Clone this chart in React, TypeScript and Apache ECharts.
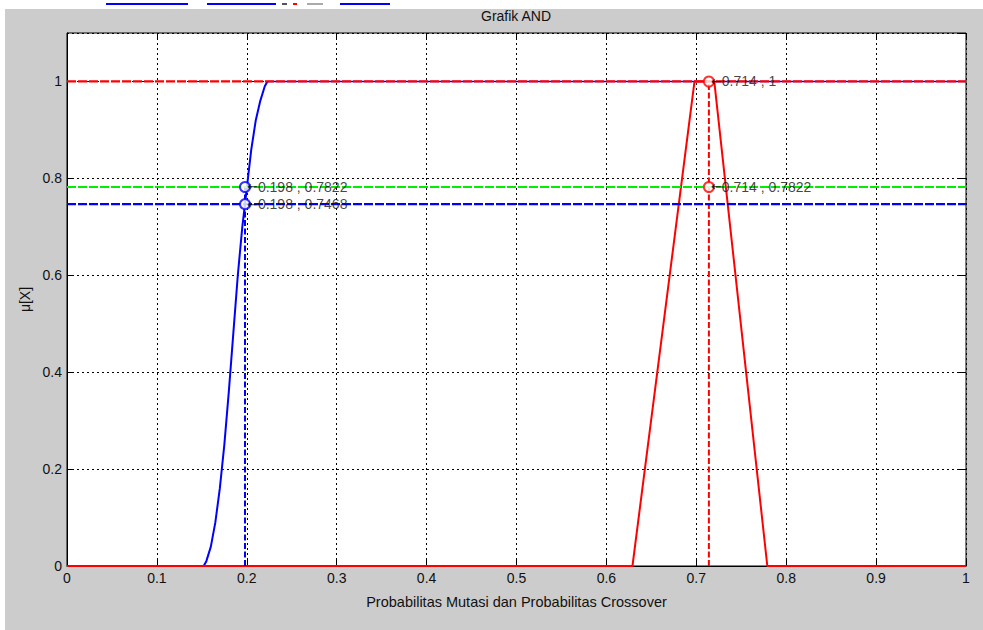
import React, { useEffect, useRef } from "react";
import * as echarts from "echarts";

// Blue S-shaped membership curve, rising part
const sCurveX = [0, 0.15, 0.152, 0.155, 0.16, 0.165, 0.17, 0.175, 0.18, 0.185, 0.19, 0.195, 0.198, 0.2, 0.205, 0.21, 0.215, 0.22, 0.223];
const sCurveY = [0, 0, 0, 0.01, 0.04, 0.09, 0.16, 0.25, 0.36, 0.48, 0.6, 0.7, 0.7468, 0.78, 0.86, 0.92, 0.96, 0.99, 1];
// Blue curve plateau
const plateauX = [0.223, 1];
const plateauY = [1, 1];

// Red trapezoid membership curve
const trapX = [0, 0.629, 0.698, 0.72, 0.779, 1];
const trapY = [0, 0, 1, 1, 0, 0];

// Horizontal reference levels (blue, green, red)
const levelY = [0.7468, 0.7822, 1];
// Vertical reference lines: x position and top value
const cutX = [0.198, 0.714];
const cutTop = [0.7822, 1];

// Annotated points
const pointX = [0.198, 0.198, 0.714, 0.714];
const pointY = [0.7822, 0.7468, 1, 0.7822];

// Tick values
const xTicks = [0, 0.1, 0.2, 0.3, 0.4, 0.5, 0.6, 0.7, 0.8, 0.9, 1];
const yTicks = [0, 0.2, 0.4, 0.6, 0.8, 1];

const titleText = "Grafik AND";
const xName = "Probabilitas Mutasi dan Probabilitas Crossover";
const yName = "\u03bc[X]";

const FONT = "'Liberation Sans', Arial, sans-serif";
const levelColors = ["#0000ff", "#00ee00", "#ff0000"];
const cutColors = ["#0000ff", "#ff0000"];
const pointColors = ["#0000ff", "#0000ff", "#ff0000", "#ff0000"];

export default function App() {
  const ref = useRef<HTMLDivElement>(null);
  useEffect(() => {
    if (!ref.current) return;
    const chart = echarts.init(ref.current, null, { renderer: "svg" });
    const series: any[] = [];
    const base = { type: "line", showSymbol: false, emphasis: { disabled: true }, silent: true };
    series.push({
      ...base,
      data: sCurveX.map((x, i) => [x, sCurveY[i]]),
      lineStyle: { color: "#0000ff", width: 2 },
      z: 1,
    });
    series.push({
      ...base,
      data: plateauX.map((x, i) => [x, plateauY[i]]),
      lineStyle: { color: "#0000ff", width: 1.6 },
      z: 1,
    });
    series.push({
      ...base,
      data: trapX.map((x, i) => [x, trapY[i]]),
      lineStyle: { color: "#ff0000", width: 2 },
      z: 3,
    });
    cutX.forEach((x, i) => {
      series.push({
        ...base,
        data: [[x, 0], [x, cutTop[i]]],
        lineStyle: { color: cutColors[i], width: 2, type: [6, 2.5] },
        z: 4,
      });
    });
    levelY.forEach((y, i) => {
      series.push({
        ...base,
        data: [[0, y], [1, y]],
        lineStyle: { color: levelColors[i], width: 2.2, type: [9, 2] },
        z: 10 + i * 5,
      });
    });
    pointX.forEach((x, i) => {
      series.push({
        type: "scatter",
        data: [[x, pointY[i]]],
        symbol: "emptyCircle",
        symbolSize: 10,
        itemStyle: { color: pointColors[i], borderColor: pointColors[i], borderWidth: 2 },
        emphasis: { disabled: true },
        silent: true,
        z: 30,
        label: {
          show: true,
          position: "right",
          distance: -4,
          textBorderWidth: 0,
          formatter: () => `{a|\u2190}{t|${x} , ${pointY[i]}}`,
          rich: {
            a: { fontFamily: "'DejaVu Sans'", fontSize: 13, color: "#000", textBorderWidth: 0 },
            t: { fontFamily: FONT, fontSize: 14, color: "#111", textBorderWidth: 0 },
          },
        },
      });
    });

    const option: any = {
      animation: false,
      backgroundColor: "#cccccc",
      grid: {
        left: 67,
        top: 33,
        right: 17,
        bottom: 64,
        show: true,
        backgroundColor: "#ffffff",
        borderColor: "#000",
        borderWidth: 1,
      },
      xAxis: [
        {
          type: "value",
          min: xTicks[0],
          max: xTicks[xTicks.length - 1],
          interval: 0.1,
          name: xName,
          nameLocation: "middle",
          nameGap: 28,
          nameTextStyle: { fontFamily: FONT, fontSize: 14.5, color: "#111" },
          axisLine: { onZero: false, lineStyle: { color: "#000" } },
          axisTick: { inside: true, length: 7, lineStyle: { color: "#000" } },
          axisLabel: {
            fontFamily: FONT,
            fontSize: 14,
            color: "#111",
            margin: 5,
            formatter: (v: number) => String(Math.round(v * 10) / 10),
          },
          splitLine: { show: true, lineStyle: { color: "#000", type: [2, 3], width: 1 } },
        },
        {
          type: "value",
          position: "top",
          min: 0,
          max: 1,
          interval: 0.1,
          axisLine: { show: false, onZero: false },
          axisTick: { inside: true, length: 7, lineStyle: { color: "#000" } },
          axisLabel: { show: false },
          splitLine: { show: false },
        },
      ],
      yAxis: [
        {
          type: "value",
          min: yTicks[0],
          max: 1.1,
          interval: 0.2,
          name: yName,
          nameLocation: "middle",
          nameGap: 30,
          nameTextStyle: { fontFamily: FONT, fontSize: 14, color: "#111" },
          axisLine: { show: true, onZero: false, lineStyle: { color: "#000" } },
          axisTick: { inside: true, length: 7, lineStyle: { color: "#000" } },
          axisLabel: {
            fontFamily: FONT,
            fontSize: 14,
            color: "#111",
            margin: 5,
            showMaxLabel: false,
            formatter: (v: number) => (v > 1.05 ? "" : String(Math.round(v * 10) / 10)),
          },
          splitLine: { show: true, lineStyle: { color: "#000", type: [2, 3], width: 1 } },
        },
        {
          type: "value",
          position: "right",
          min: 0,
          max: 1.1,
          interval: 0.2,
          axisLine: { show: false, onZero: false },
          axisTick: { inside: true, length: 7, lineStyle: { color: "#000" } },
          axisLabel: { show: false },
          splitLine: { show: false },
        },
      ],
      series,
      graphic: [
        { type: "rect", shape: { x: 0, y: 0, width: 983, height: 9 }, style: { fill: "#fff" }, silent: true },
        { type: "rect", shape: { x: 0, y: 0, width: 5, height: 630 }, style: { fill: "#fff" }, silent: true },
        { type: "line", shape: { x1: 106, y1: 4, x2: 188, y2: 4 }, style: { stroke: "#0000ff", lineWidth: 2 } },
        { type: "line", shape: { x1: 207, y1: 4, x2: 276, y2: 4 }, style: { stroke: "#0000ff", lineWidth: 2 } },
        { type: "line", shape: { x1: 282, y1: 4, x2: 287, y2: 4 }, style: { stroke: "#555", lineWidth: 2 } },
        { type: "line", shape: { x1: 293, y1: 4, x2: 297, y2: 4 }, style: { stroke: "#ff0000", lineWidth: 2 } },
        { type: "line", shape: { x1: 307, y1: 4, x2: 323, y2: 4 }, style: { stroke: "#aaa", lineWidth: 2 } },
        { type: "line", shape: { x1: 340, y1: 4, x2: 390, y2: 4 }, style: { stroke: "#0000ff", lineWidth: 2 } },
        {
          type: "text",
          x: 516,
          y: 16,
          style: {
            text: titleText,
            font: `14px ${FONT}`,
            fill: "#111",
            textAlign: "center",
            textVerticalAlign: "middle",
          },
        },
      ],
    };
    chart.setOption(option);
    return () => chart.dispose();
  }, []);
  return (
    <div
      ref={ref}
      style={{ position: "absolute", left: 0, top: 0, width: 983, height: 630 }}
    />
  );
}
